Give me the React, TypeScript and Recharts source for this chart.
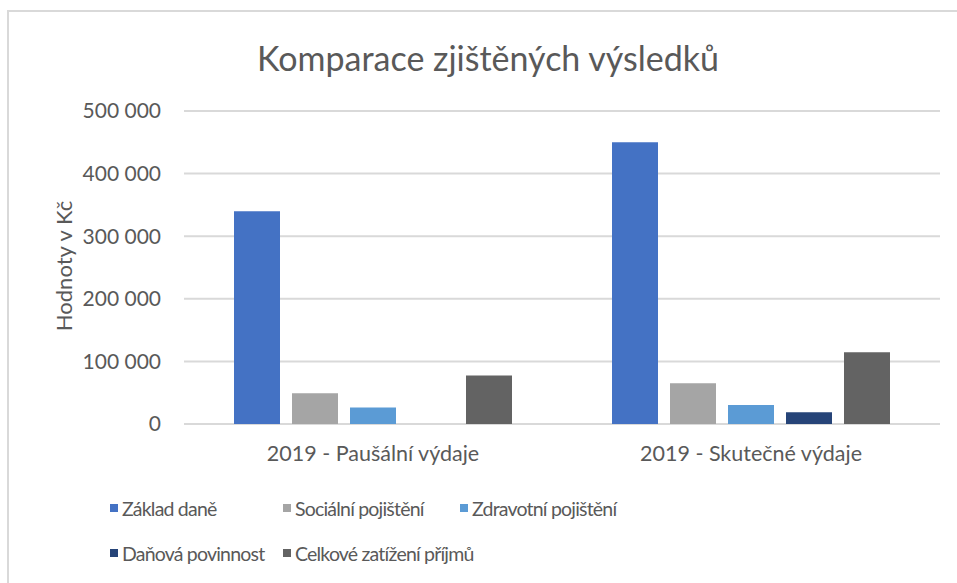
import React from 'react';
import { Bar, BarChart, CartesianGrid, XAxis, YAxis } from 'recharts';

const categories = ['2019 - Paušální výdaje', '2019 - Skutečné výdaje'];
const zakladDane = [340000, 450000];
const socialniPojisteni = [49000, 65000];
const zdravotniPojisteni = [26500, 30300];
const danovaPovinnost = [0, 18700];
const celkoveZatizeni = [77500, 114500];
const yTicks = [0, 100000, 200000, 300000, 400000, 500000];

const series = [
  { key: 'zaklad', name: 'Základ daně', color: '#4472C4', values: zakladDane },
  { key: 'social', name: 'Sociální pojištění', color: '#A5A5A5', values: socialniPojisteni },
  { key: 'zdrav', name: 'Zdravotní pojištění', color: '#5B9BD5', values: zdravotniPojisteni },
  { key: 'dan', name: 'Daňová povinnost', color: '#264478', values: danovaPovinnost },
  { key: 'celkem', name: 'Celkové zatížení příjmů', color: '#636363', values: celkoveZatizeni },
];

const data = categories.map((name, i) => {
  const row: Record<string, string | number> = { name };
  series.forEach((s) => {
    row[s.key] = s.values[i];
  });
  return row;
});

const FONT = 'Lato, "Noto Sans", sans-serif';
const TEXT = '#595959';
const GRID = '#D9D9D9';

const formatTick = (v: number): string =>
  String(v).replace(/\B(?=(\d{3})+(?!\d))/g, ' ');

const ChartLegend = () => (
  <div
    style={{
      position: 'absolute',
      left: 110,
      top: 496,
      display: 'grid',
      gridTemplateColumns: '173px 177px 200px',
      rowGap: 21,
      fontFamily: FONT,
      fontSize: 19.5,
      letterSpacing: -0.8,
      color: TEXT,
      whiteSpace: 'nowrap',
    }}>
    {series.map((s) => (
      <div
        key={s.key}
        style={{ display: 'flex', alignItems: 'center', height: 24 }}>
        <span
          style={{
            width: 8,
            height: 8,
            flexShrink: 0,
            background: s.color,
            marginRight: 4,
            display: 'inline-block',
          }}
        />
        <span>{s.name}</span>
      </div>
    ))}
  </div>
);

const App = () => {
  return (
    <div
      style={{
        position: 'absolute',
        left: 0,
        top: 0,
        width: 957,
        height: 583,
        background: '#fff',
        overflow: 'hidden',
      }}>
      <div
        style={{
          position: 'absolute',
          left: 7,
          top: 10,
          width: 980,
          height: 600,
          borderLeft: `2px solid ${GRID}`,
          borderTop: `2px solid ${GRID}`,
        }}
      />
      <div
        style={{
          position: 'absolute',
          left: 0,
          width: 976,
          top: 37,
          textAlign: 'center',
          fontFamily: FONT,
          fontSize: 34,
          color: TEXT,
          lineHeight: '42px',
        }}>
        Komparace zjištěných výsledků
      </div>
      <BarChart
        data={data}
        width={957}
        height={583}
        margin={{ top: 111, right: 17, left: 0, bottom: 129 }}
        barSize={46}
        barGap={12}
        style={{ position: 'absolute', left: 0, top: 0 }}>
        <CartesianGrid vertical={false} stroke={GRID} strokeWidth={2} />
        <XAxis
          dataKey="name"
          height={30}
          axisLine={false}
          tickLine={false}
          tickSize={0}
          tickMargin={22}
          tick={{ fill: TEXT, fontSize: 21.5, fontFamily: FONT }}
        />
        <YAxis
          width={184}
          domain={[0, 500000]}
          ticks={yTicks}
          axisLine={false}
          tickLine={false}
          tickSize={0}
          tickMargin={23}
          tickFormatter={formatTick}
          tick={{ fill: TEXT, fontSize: 21, fontFamily: FONT }}
          label={{
            content: () => (
              <text
                x={63}
                y={266}
                transform="rotate(-90, 63, 266)"
                textAnchor="middle"
                dominantBaseline="central"
                fill={TEXT}
                fontSize={22}
                fontFamily={FONT}>
                Hodnoty v Kč
              </text>
            ),
          }}
        />
        {series.map((s) => (
          <Bar
            key={s.key}
            dataKey={s.key}
            name={s.name}
            fill={s.color}
            isAnimationActive={false}
          />
        ))}
      </BarChart>
      <ChartLegend />
    </div>
  );
};

export default App;
